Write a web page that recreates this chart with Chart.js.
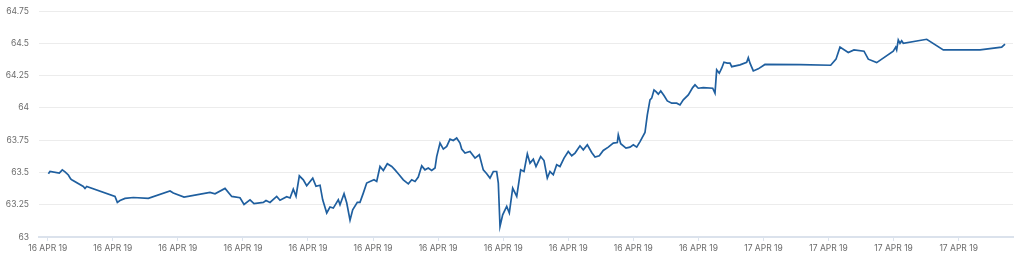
<!DOCTYPE html>
<html>
<head>
<meta charset="utf-8">
<script src="https://cdn.jsdelivr.net/npm/chart.js@4"></script>
<style>
    html, body { margin: 0; padding: 0; background: #ffffff; }
    #wrap { width: 1024px; height: 265px; }
</style>
</head>
<body>
<div id="wrap"><canvas id="priceChart" width="1024" height="265"></canvas></div>
<script>
// x = hours from the first tick, y = price
const timeHours = [
    0.01, 0.035, 0.178, 0.224, 0.266, 0.317, 0.353, 0.369, 0.547, 0.573,
    0.599, 1.034, 1.070, 1.111, 1.188, 1.316, 1.546, 1.880, 1.930, 2.095,
    2.494, 2.571, 2.725, 2.828, 2.955, 3.017, 3.109, 3.170, 3.313, 3.355,
    3.416, 3.519, 3.570, 3.673, 3.724, 3.774, 3.816, 3.867, 3.928, 3.980,
    4.073, 4.123, 4.185, 4.226, 4.288, 4.338, 4.389, 4.466, 4.492, 4.554,
    4.595, 4.646, 4.687, 4.758, 4.799, 4.850, 4.902, 4.953, 5.015, 5.056,
    5.107, 5.158, 5.219, 5.287, 5.337, 5.388, 5.465, 5.542, 5.594, 5.645,
    5.695, 5.748, 5.798, 5.849, 5.901, 5.952, 5.978, 6.029, 6.080, 6.132,
    6.183, 6.233, 6.285, 6.336, 6.362, 6.413, 6.490, 6.567, 6.633, 6.694,
    6.747, 6.797, 6.848, 6.900, 6.925, 6.951, 6.992, 7.054, 7.094, 7.146,
    7.208, 7.269, 7.320, 7.371, 7.412, 7.463, 7.504, 7.576, 7.627, 7.678,
    7.719, 7.770, 7.822, 7.873, 7.935, 8.000, 8.053, 8.104, 8.180, 8.231,
    8.293, 8.360, 8.411, 8.477, 8.538, 8.615, 8.692, 8.754, 8.769, 8.806,
    8.887, 8.949, 9.000, 9.052, 9.103, 9.179, 9.215, 9.256, 9.282, 9.318,
    9.348, 9.384, 9.421, 9.471, 9.522, 9.590, 9.667, 9.717, 9.768, 9.845,
    9.912, 9.948, 9.998, 10.075, 10.220, 10.255, 10.281, 10.321, 10.358, 10.393,
    10.444, 10.486, 10.512, 10.639, 10.742, 10.767, 10.793, 10.844, 10.920, 11.023,
    11.561, 12.033, 12.115, 12.176, 12.303, 12.391, 12.545, 12.611, 12.740, 12.995,
    13.032, 13.047, 13.072, 13.098, 13.124, 13.149, 13.509, 13.764, 14.328, 14.661,
    14.712
];
const prices = [
    63.49, 63.507, 63.495, 63.52, 63.505, 63.48, 63.449, 63.443, 63.391, 63.376,
    63.391, 63.314, 63.268, 63.283, 63.299, 63.306, 63.299, 63.356, 63.34, 63.309,
    63.345, 63.335, 63.376, 63.314, 63.304, 63.252, 63.288, 63.258, 63.268, 63.283,
    63.268, 63.314, 63.285, 63.312, 63.302, 63.371, 63.316, 63.474, 63.443, 63.397,
    63.456, 63.393, 63.401, 63.288, 63.186, 63.232, 63.224, 63.288, 63.25, 63.335,
    63.265, 63.13, 63.211, 63.268, 63.268, 63.34, 63.418, 63.43, 63.443, 63.43,
    63.546, 63.515, 63.567, 63.546, 63.52, 63.49, 63.443, 63.412, 63.443, 63.43,
    63.464, 63.551, 63.52, 63.534, 63.515, 63.534, 63.623, 63.727, 63.681, 63.701,
    63.758, 63.747, 63.766, 63.727, 63.681, 63.65, 63.662, 63.611, 63.637, 63.52,
    63.49, 63.456, 63.507, 63.507, 63.418, 63.082, 63.172, 63.237, 63.186, 63.379,
    63.314, 63.52, 63.507, 63.644, 63.572, 63.603, 63.546, 63.623, 63.592, 63.456,
    63.507, 63.482, 63.559, 63.546, 63.611, 63.662, 63.629, 63.65, 63.706, 63.675,
    63.714, 63.654, 63.619, 63.629, 63.67, 63.696, 63.727, 63.732, 63.791, 63.722,
    63.688, 63.696, 63.714, 63.696, 63.739, 63.809, 63.946, 64.062, 64.075, 64.139,
    64.126, 64.106, 64.131, 64.095, 64.054, 64.036, 64.036, 64.023, 64.062, 64.1,
    64.157, 64.178, 64.152, 64.157, 64.152, 64.114, 64.294, 64.268, 64.307, 64.353,
    64.346, 64.346, 64.319, 64.333, 64.353, 64.389, 64.346, 64.286, 64.302, 64.336,
    64.335, 64.33, 64.377, 64.47, 64.428, 64.449, 64.439, 64.377, 64.35, 64.439,
    64.47, 64.449, 64.526, 64.5, 64.52, 64.5, 64.531, 64.449, 64.449, 64.47,
    64.493
];
const tickHours = [0, 1, 2, 3, 4, 5, 6, 7, 8, 9, 10, 11, 12, 13, 14];
const tickLabels = [
    '16 APR 19', '16 APR 19', '16 APR 19', '16 APR 19', '16 APR 19',
    '16 APR 19', '16 APR 19', '16 APR 19', '16 APR 19', '16 APR 19',
    '16 APR 19', '17 APR 19', '17 APR 19', '17 APR 19', '17 APR 19'
];

const points = timeHours.map((t, i) => ({ x: t, y: prices[i] }));
const labelFont = { family: 'Inter', size: 8.5 };
const labelColor = '#6c6c6c';
const axisColor = '#dbe2ec';

const ctx = document.getElementById('priceChart').getContext('2d');
const chart = new Chart(ctx, {
    type: 'line',
    data: {
        datasets: [{
            data: points,
            borderColor: '#1f5f9f',
            borderWidth: 1.7,
            pointRadius: 0,
            tension: 0,
            fill: false
        }]
    },
    options: {
        responsive: false,
        animation: false,
        devicePixelRatio: 1,
        layout: { padding: { top: 11, right: 11, bottom: 0, left: 0 } },
        plugins: {
            legend: { display: false },
            tooltip: { enabled: false }
        },
        scales: {
            x: {
                type: 'linear',
                min: -0.134,
                max: 14.835,
                afterBuildTicks: function (scale) {
                    scale.ticks = tickHours.map(v => ({ value: v }));
                },
                afterFit: function (scale) {
                    scale.height = 28;
                    scale.paddingLeft = 0;
                    scale.paddingRight = 0;
                },
                ticks: {
                    autoSkip: false,
                    maxRotation: 0,
                    padding: 2,
                    color: labelColor,
                    font: labelFont,
                    callback: function (value, index) {
                        return tickLabels[index];
                    }
                },
                grid: {
                    drawOnChartArea: false,
                    drawTicks: true,
                    tickLength: 4,
                    color: axisColor,
                    lineWidth: 1
                },
                border: { display: true, color: axisColor, width: 2 }
            },
            y: {
                min: 63,
                max: 64.75,
                afterBuildTicks: function (scale) {
                    const vals = [];
                    for (let v = 63; v <= 64.75 + 1e-9; v += 0.25) vals.push({ value: v });
                    scale.ticks = vals;
                },
                afterFit: function (scale) {
                    scale.width = 39;
                    scale.paddingTop = 0;
                    scale.paddingBottom = 0;
                },
                ticks: {
                    padding: 10,
                    color: labelColor,
                    font: labelFont,
                    callback: function (value) {
                        return String(+value.toFixed(2));
                    }
                },
                grid: {
                    drawTicks: false,
                    color: '#ececec',
                    lineWidth: 1
                },
                border: { display: false }
            }
        }
    }
});
</script>
</body>
</html>
